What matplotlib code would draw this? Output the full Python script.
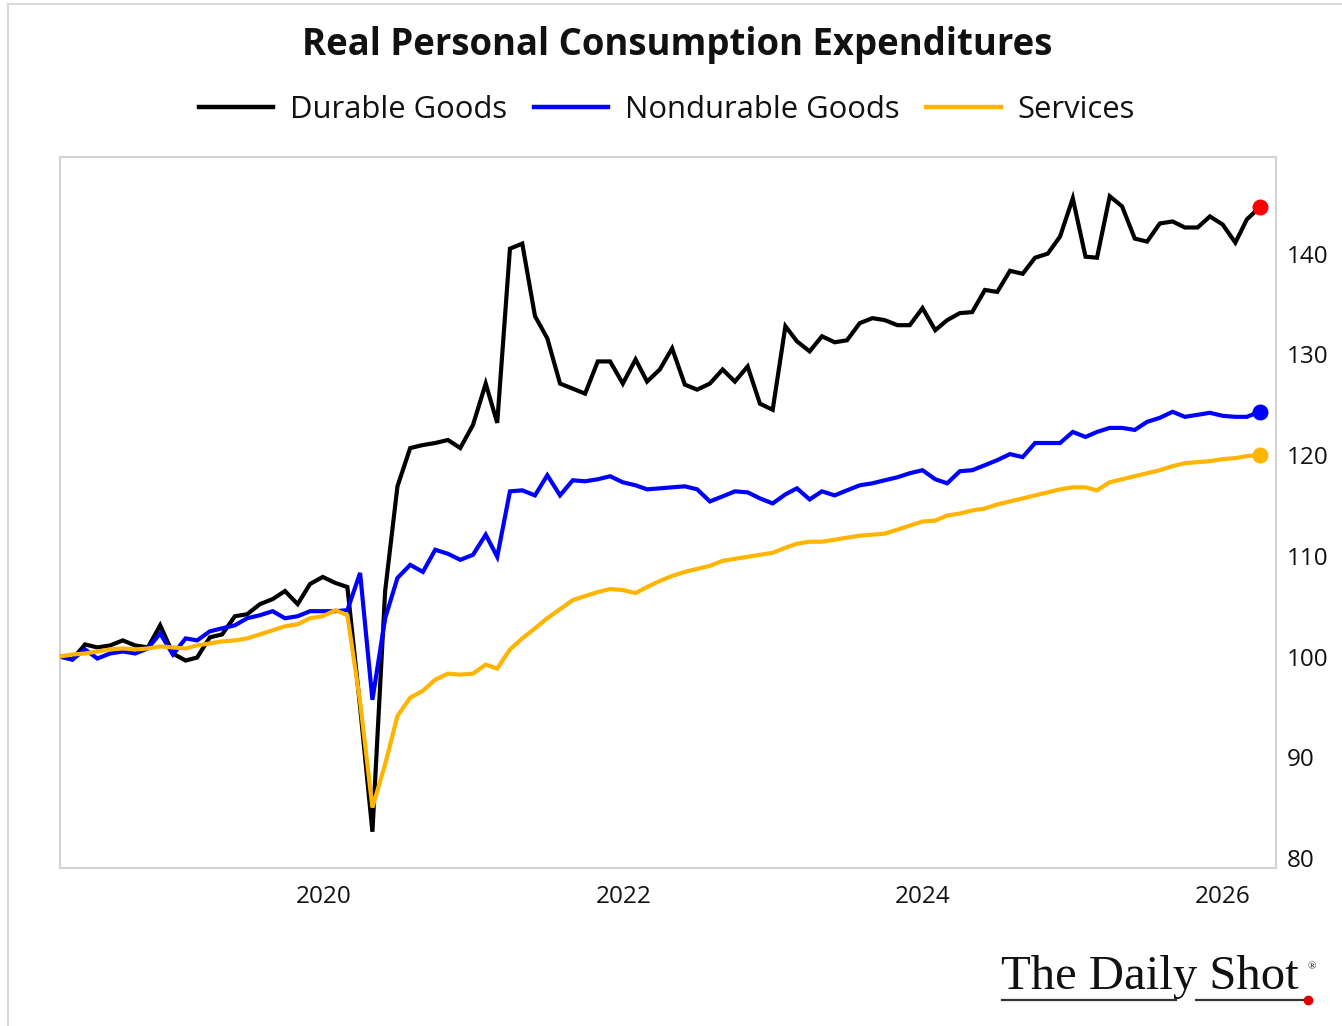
import matplotlib
matplotlib.use("Agg")
import matplotlib.pyplot as plt
from matplotlib import font_manager
import pandas as pd
from matplotlib.lines import Line2D

# ---------------- data ----------------
dates = pd.date_range("2018-03-31", "2026-03-31", freq="ME")

durable = [100.0, 99.7, 101.2, 100.9, 101.1, 101.6, 101.1, 100.9, 103.1, 100.3,
           99.6, 99.9, 101.9, 102.2, 104.0, 104.2, 105.2, 105.7, 106.5, 105.2,
           107.2, 107.9, 107.3, 106.9, 95.0, 82.6, 106.5, 116.9, 120.7, 121.0,
           121.2, 121.5, 120.7, 123.0, 127.1, 123.2, 140.5, 141.0, 133.8, 131.6,
           127.1, 126.6, 126.1, 129.3, 129.3, 127.1, 129.5, 127.3, 128.5, 130.6,
           127.0, 126.5, 127.1, 128.5, 127.3, 128.8, 125.1, 124.5, 132.8, 131.3,
           130.3, 131.8, 131.2, 131.4, 133.1, 133.6, 133.4, 132.9, 132.9, 134.6,
           132.4, 133.4, 134.1, 134.2, 136.4, 136.2, 138.3, 138.0, 139.6, 140.0,
           141.7, 145.5, 139.7, 139.6, 145.7, 144.7, 141.5, 141.2, 143.0, 143.2,
           142.6, 142.6, 143.7, 142.9, 141.1, 143.4, 144.6]

nondurable = [100.0, 99.7, 100.7, 99.8, 100.3, 100.5, 100.3, 100.8, 102.3, 100.2,
              101.8, 101.6, 102.5, 102.8, 103.1, 103.8, 104.1, 104.5, 103.8, 104.0,
              104.5, 104.5, 104.5, 104.6, 108.3, 95.7, 103.8, 107.8, 109.1, 108.4,
              110.6, 110.2, 109.6, 110.1, 112.1, 109.9, 116.4, 116.5, 116.0, 118.0,
              116.0, 117.5, 117.4, 117.6, 117.9, 117.3, 117.0, 116.6, 116.7, 116.8,
              116.9, 116.6, 115.4, 115.9, 116.4, 116.3, 115.7, 115.2, 116.1, 116.7,
              115.6, 116.4, 116.0, 116.5, 117.0, 117.2, 117.5, 117.8, 118.2, 118.5,
              117.6, 117.2, 118.4, 118.5, 119.0, 119.5, 120.1, 119.8, 121.2, 121.2,
              121.2, 122.3, 121.8, 122.3, 122.7, 122.7, 122.5, 123.3, 123.7, 124.3,
              123.8, 124.0, 124.2, 123.9, 123.8, 123.8, 124.3]

services = [100.0, 100.2, 100.3, 100.5, 100.7, 100.8, 100.7, 100.8, 101.0, 100.9,
            100.8, 101.1, 101.3, 101.5, 101.6, 101.8, 102.2, 102.6, 103.0, 103.2,
            103.8, 104.0, 104.6, 104.1, 95.5, 85.0, 89.3, 94.1, 95.9, 96.6,
            97.7, 98.3, 98.2, 98.3, 99.2, 98.8, 100.7, 101.8, 102.8, 103.8,
            104.7, 105.6, 106.0, 106.4, 106.7, 106.6, 106.3, 106.9, 107.5, 108.0,
            108.4, 108.7, 109.0, 109.5, 109.7, 109.9, 110.1, 110.3, 110.8, 111.2,
            111.4, 111.4, 111.6, 111.8, 112.0, 112.1, 112.2, 112.6, 113.0, 113.4,
            113.5, 114.0, 114.2, 114.5, 114.7, 115.1, 115.4, 115.7, 116.0, 116.3,
            116.6, 116.8, 116.8, 116.5, 117.3, 117.6, 117.9, 118.2, 118.5, 118.9,
            119.2, 119.3, 119.4, 119.6, 119.7, 119.9, 120.0]

series_names = ["Durable Goods", "Nondurable Goods", "Services"]
series_colors = ["#000000", "#0000ff", "#ffb400"]
end_colors = ["#ff0000", "#0000ff", "#ffb400"]
yticks = [80, 90, 100, 110, 120, 130, 140]
xtick_years = [2020, 2022, 2024, 2026]
title = "Real Personal Consumption Expenditures"

# ---------------- fonts ----------------
available = {f.name for f in font_manager.fontManager.ttflist}
def pick(cands):
    for c in cands:
        if c in available:
            return c
    return "DejaVu Sans"
sans = pick(["Liberation Sans Narrow", "Open Sans", "Roboto", "DejaVu Sans"])
serif = pick(["Liberation Serif", "DejaVu Serif"])

# ---------------- figure ----------------
W, H = 1342, 1026
fig = plt.figure(figsize=(W / 100, H / 100), dpi=100)
fig.patch.set_facecolor("white")

# outer light border (left and top)
fig.add_artist(Line2D([8 / W, 8 / W], [0, 1 - 4 / H], color="#d9d9d9", lw=1.5,
                      transform=fig.transFigure))
fig.add_artist(Line2D([8 / W, 1], [1 - 4 / H, 1 - 4 / H], color="#d9d9d9", lw=1.5,
                      transform=fig.transFigure))

ax = fig.add_axes([60 / W, (H - 868) / H, (1276 - 60) / W, (868 - 157) / H])

for vals, name, col in zip([durable, nondurable, services], series_names,
                           series_colors):
    ax.plot(dates, vals, color=col, lw=3.0, label=name, solid_joinstyle="miter",
            zorder=3)

for vals, ecol in zip([durable, nondurable, services], end_colors):
    ax.plot(dates[-1:], vals[-1:], "o", color=ecol, ms=11.5, zorder=5,
            markeredgewidth=0)

ax.set_xlim(pd.Timestamp("2018-03-31"), pd.Timestamp("2026-05-10"))
ax.set_ylim(79.0, 149.6)

ax.yaxis.tick_right()
ax.set_yticks(yticks)
ax.set_yticklabels([str(v) for v in yticks])
ax.set_xticks([pd.Timestamp(f"{y}-01-01") for y in xtick_years])
ax.set_xticklabels([str(y) for y in xtick_years])
ax.tick_params(axis="both", length=0, labelsize=17.5, labelcolor="#111111")
ax.tick_params(axis="y", pad=8)
ax.tick_params(axis="x", pad=12)
for lab in ax.get_xticklabels() + ax.get_yticklabels():
    lab.set_fontfamily(sans)

for sp in ax.spines.values():
    sp.set_color("#d4d4d4")
    sp.set_linewidth(1.5)

# title
fig.text(677 / W, 1 - 45 / H, title, ha="center", va="center", fontsize=26.3,
         fontweight="bold", family=sans, color="#111111")

# legend
handles = [Line2D([], [], color=c, lw=3.2) for c in series_colors]
fig.legend(handles, series_names, loc="center", ncol=3,
           bbox_to_anchor=(667 / W, 1 - 110 / H), frameon=False,
           prop={"family": sans, "size": 22.3}, handlelength=2.4,
           handletextpad=0.55, columnspacing=0.85, labelcolor="#111111")

# logo
fig.text(1001 / W, 1 - 977 / H, "The Daily Shot", ha="left", va="center",
         fontsize=35, family=serif, color="#111111")
fig.text(1307 / W, 1 - 967 / H, "®", ha="left", va="center", fontsize=8,
         family=serif, color="#111111")
fig.add_artist(Line2D([1002 / W, 1176 / W], [1 - 1000 / H, 1 - 1000 / H],
                      color="#333333", lw=1.6, transform=fig.transFigure))
fig.add_artist(Line2D([1196 / W, 1306 / W], [1 - 1000 / H, 1 - 1000 / H],
                      color="#333333", lw=1.6, transform=fig.transFigure))
fig.add_artist(Line2D([1308 / W], [1 - 1000 / H], marker="o", color="#e00000",
                      ms=6, transform=fig.transFigure))

fig.savefig("out.png", dpi=100, facecolor="white")
